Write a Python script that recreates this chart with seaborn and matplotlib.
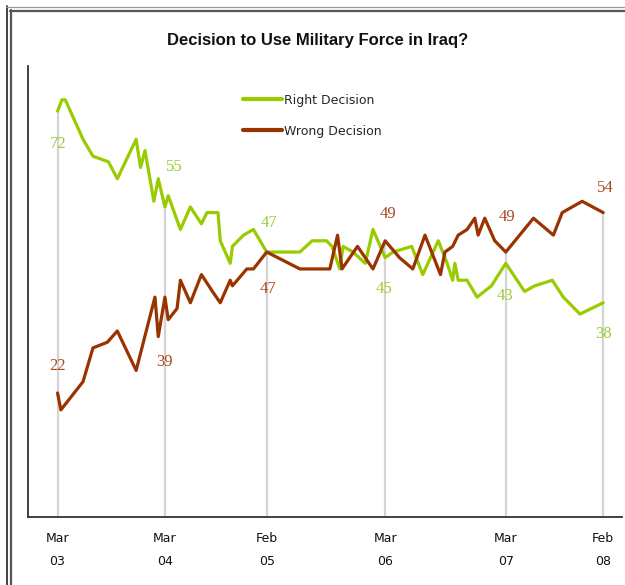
import matplotlib
matplotlib.use("Agg")
import matplotlib.pyplot as plt
from matplotlib.lines import Line2D
import numpy as np
import pandas as pd
import seaborn as sns

# poll dates as decimal years, values in percent
right_years = [2003.22, 2003.26, 2003.29, 2003.45, 2003.54, 2003.68, 2003.76, 2003.93, 2003.97,
               2004.01, 2004.09, 2004.13, 2004.19, 2004.22, 2004.33, 2004.42, 2004.52, 2004.57,
               2004.67, 2004.69, 2004.78, 2004.80, 2004.90, 2004.99, 2005.11, 2005.41, 2005.52,
               2005.65, 2005.70, 2005.77, 2005.80, 2005.89, 2006.00, 2006.07, 2006.18, 2006.25,
               2006.42, 2006.52, 2006.66, 2006.74, 2006.79, 2006.81, 2006.84, 2006.92, 2007.01,
               2007.14, 2007.27, 2007.44, 2007.53, 2007.69, 2007.79, 2007.94, 2008.15]
right_vals = [72, 74, 74, 67, 64, 63, 60, 67, 62,
              65, 56, 60, 55, 57, 51, 55, 52, 54,
              54, 49, 45, 48, 50, 51, 47, 47, 49,
              49, 48, 44, 48, 47, 45, 51, 46, 47,
              48, 43, 49, 45, 42, 45, 42, 42, 39,
              41, 45, 40, 41, 42, 39, 36, 38]

wrong_years = [2003.22, 2003.25, 2003.45, 2003.54, 2003.67, 2003.76, 2003.93, 2004.10, 2004.13,
               2004.19, 2004.22, 2004.30, 2004.33, 2004.42, 2004.52, 2004.62, 2004.69, 2004.78,
               2004.80, 2004.93, 2004.99, 2005.11, 2005.41, 2005.68, 2005.75, 2005.79, 2005.93,
               2006.07, 2006.18, 2006.31, 2006.43, 2006.54, 2006.68, 2006.72, 2006.79, 2006.84,
               2006.92, 2006.99, 2007.02, 2007.08, 2007.17, 2007.27, 2007.52, 2007.70, 2007.78,
               2007.96, 2008.15]
wrong_vals = [22, 19, 24, 30, 31, 33, 26, 39, 32,
              39, 35, 37, 42, 38, 43, 40, 38, 42,
              41, 44, 44, 47, 44, 44, 50, 44, 48,
              44, 49, 46, 44, 50, 43, 47, 48, 50,
              51, 53, 50, 53, 49, 47, 53, 50, 54,
              56, 54]

tick_years = [2003.22, 2004.19, 2005.11, 2006.18, 2007.27, 2008.15]
tick_labels = ["Mar\n03", "Mar\n04", "Feb\n05", "Mar\n06", "Mar\n07", "Feb\n08"]
right_labels = ["72", "55", "47", "45", "43", "38"]
wrong_labels = ["22", "39", "47", "49", "49", "54"]

series_names = ["Right Decision", "Wrong Decision"]
line_colors = {"Right Decision": "#99cc00", "Wrong Decision": "#993300"}
label_colors = {"Right Decision": "#9acd32", "Wrong Decision": "#a8481c"}

# label offsets in pixels (dx, dy) from the labelled point
right_offsets = [(1, -33), (9, 40), (2, 29), (-1, -31), (-1, -33), (0, -31)]
wrong_offsets = [(0, 27), (0, -65), (1, -37), (3, 27), (1, 35), (2, 25)]


def main():
    sns.set_style("white")
    plt.rcParams["font.family"] = ["DejaVu Sans"]

    df = pd.concat([
        pd.DataFrame({"year": right_years, "pct": right_vals, "series": series_names[0]}),
        pd.DataFrame({"year": wrong_years, "pct": wrong_vals, "series": series_names[1]}),
    ])

    fig = plt.figure(figsize=(6.25, 5.85), dpi=100)
    ax = fig.add_axes([0.0448, 0.1162, 0.9504, 0.771])

    r_map = dict(zip(right_years, right_vals))
    w_map = dict(zip(wrong_years, wrong_vals))
    tops = [max(r_map[t], w_map[t]) for t in tick_years]
    ax.vlines(tick_years, 0, tops, color="#d4d4d4", linewidth=1.6, zorder=1)

    sns.lineplot(data=df, x="year", y="pct", hue="series", palette=line_colors,
                 estimator=None, sort=False, linewidth=2.3, ax=ax, zorder=3)

    px = 0.72
    for t, lab, off in zip(tick_years, right_labels, right_offsets):
        ax.annotate(lab, (t, r_map[t]), xytext=(off[0] * px, off[1] * px),
                    textcoords="offset points", ha="center", va="center",
                    fontsize=12, family="Liberation Serif",
                    color=label_colors["Right Decision"])
    for t, lab, off in zip(tick_years, wrong_labels, wrong_offsets):
        ax.annotate(lab, (t, w_map[t]), xytext=(off[0] * px, off[1] * px),
                    textcoords="offset points", ha="center", va="center",
                    fontsize=12, family="Liberation Serif",
                    color=label_colors["Wrong Decision"])

    ax.set_xlim(2002.953, 2008.320)
    ax.set_ylim(0, 80)
    ax.set_yticks([])
    ax.set_xticks(tick_years)
    ax.set_xticklabels(tick_labels, fontsize=9, linespacing=2.0, color="#111111")
    ax.tick_params(axis="x", length=0, pad=11)
    ax.set_xlabel("")
    ax.set_ylabel("")
    for side in ["top", "right"]:
        ax.spines[side].set_visible(False)
    for side in ["left", "bottom"]:
        ax.spines[side].set_color("#333333")
        ax.spines[side].set_linewidth(1.3)

    ax.legend(loc="upper left", bbox_to_anchor=(0.362, 0.939), frameon=False,
              fontsize=9, handlelength=3.1, handletextpad=0.2, labelspacing=1.45,
              borderpad=0, borderaxespad=0)
    for line in ax.get_legend().get_lines():
        line.set_linewidth(3)

    fig.text(0.508, 0.930, "Decision to Use Military Force in Iraq?", ha="center",
             va="center", fontsize=12, fontweight="bold", family="Liberation Sans",
             color="#111111")

    # double frame around the chart
    W, H = 625.0, 585.0
    fig.add_artist(Line2D([6.5 / W, 6.5 / W], [0, 1 - 6 / H], color="#222222", lw=1.2))
    fig.add_artist(Line2D([6 / W, 1], [1 - 6.5 / H, 1 - 6.5 / H], color="#999999", lw=0.9))
    fig.add_artist(Line2D([10.8 / W, 10.8 / W], [0, 1 - 10 / H], color="#555555", lw=1.6))
    fig.add_artist(Line2D([10 / W, 1], [1 - 10.5 / H, 1 - 10.5 / H], color="#555555", lw=1.6))

    fig.savefig("out.png", dpi=100)


if __name__ == "__main__":
    main()
